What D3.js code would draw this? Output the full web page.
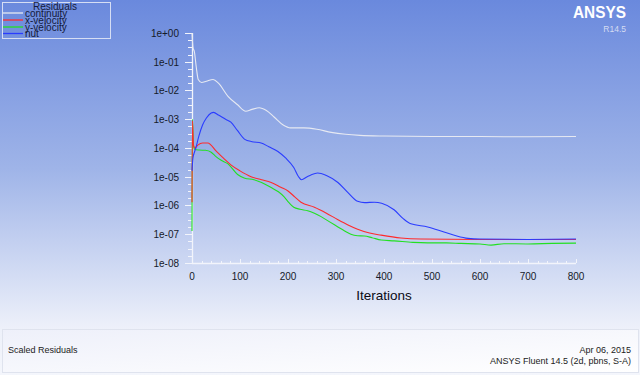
<!DOCTYPE html>
<html><head><meta charset="utf-8">
<script src="https://cdn.jsdelivr.net/npm/d3@7"></script>
<style>html,body{margin:0;padding:0;overflow:hidden;background:#fff}svg{display:block}text{font-family:"Liberation Sans",Arial,sans-serif}</style>
</head><body>
<script>
// ---- data ----
const xTicks = [0,100,200,300,400,500,600,700,800];
const yTickLabels = ["1e+00","1e-01","1e-02","1e-03","1e-04","1e-05","1e-06","1e-07","1e-08"];
const legendNames = ["continuity","x-velocity","y-velocity","nut"];
const seriesColors = ["#e6e9f2","#ff2a2a","#22e022","#2a3cff"];

const contIter = [0,2,5,9,13,20,30,44,55,75,95,112,125,140,155,171,190,205,233,260,290,320,350,400,500,600,700,800];
const contVal  = [1,0.32,0.22,0.063,0.024,0.019,0.021,0.024,0.018,6.3e-3,3.2e-3,1.9e-3,2.2e-3,2.5e-3,2.0e-3,1.2e-3,6.3e-4,5.0e-4,5.0e-4,4.5e-4,3.5e-4,3.0e-4,2.75e-4,2.6e-4,2.5e-4,2.5e-4,2.45e-4,2.5e-4];

const xvelIter = [0,1,3,6,12,22,33,50,65,81,100,123,145,165,185,200,214,227,255,280,304,325,345,370,394,435,477,600,800];
const xvelVal  = [1.3e-6,8.9e-4,1.26e-4,1.0e-4,1.26e-4,1.5e-4,1.5e-4,7.9e-5,4.5e-5,2.6e-5,1.6e-5,1.0e-5,7.9e-6,6.3e-6,4.3e-6,3.2e-6,2.0e-6,1.3e-6,8.7e-7,5.4e-7,3.2e-7,2.1e-7,1.5e-7,1.1e-7,9.3e-8,7.4e-8,6.8e-8,6.6e-8,6.6e-8];

const yvelIter = [0,1,3,6,15,28,40,50,60,75,95,110,129,145,165,180,192,202,212,225,241,255,269,285,304,318,331,345,359,375,394,421,460,491,530,560,600,623,650,700,750,800];
const yvelVal  = [1.3e-7,1.0e-3,1.26e-4,8.9e-5,8.5e-5,8.3e-5,7.1e-5,5.0e-5,3.8e-5,2.8e-5,1.2e-5,8.9e-6,7.9e-6,6.3e-6,4.2e-6,3.0e-6,2.0e-6,1.26e-6,8.7e-7,7.4e-7,6.6e-7,5.4e-7,4.1e-7,2.8e-7,1.8e-7,1.3e-7,1.0e-7,8.9e-8,8.7e-8,7.6e-8,6.3e-8,5.9e-8,5.2e-8,5.0e-8,5.0e-8,4.8e-8,4.6e-8,4.2e-8,4.7e-8,4.6e-8,4.8e-8,4.9e-8];

const nutIter = [0,2,5,8,14,22,30,40,45,55,70,81,95,110,125,144,160,179,195,212,222,228,240,262,280,304,325,345,360,380,395,421,440,456,491,525,550,575,600,700,800];
const nutVal  = [1.6e-5,4.5e-5,7.1e-5,1.0e-4,2.5e-4,6.3e-4,1.1e-3,1.66e-3,1.74e-3,1.4e-3,1.0e-3,7.9e-4,4.0e-4,2.0e-4,1.66e-4,1.5e-4,1.1e-4,7.6e-5,4.5e-5,2.1e-5,1.0e-5,7.9e-6,1.0e-5,1.35e-5,1.1e-5,6.3e-6,2.8e-6,1.4e-6,1.26e-6,1.3e-6,1.2e-6,7.1e-7,3.5e-7,2.3e-7,1.8e-7,1.2e-7,8.9e-8,7.2e-8,6.8e-8,6.6e-8,6.8e-8];

// ---- drawing ----
const W = 640, H = 375;
const svg = d3.select("body").append("svg").attr("width", W).attr("height", H);
const defs = svg.append("defs");
const bg = defs.append("linearGradient").attr("id","bg").attr("x1",0).attr("y1",0).attr("x2",0).attr("y2",1);
bg.append("stop").attr("offset","0%").attr("stop-color","#6a89dd");
bg.append("stop").attr("offset","45%").attr("stop-color","#9fb4e8");
bg.append("stop").attr("offset","88%").attr("stop-color","#eef1fa");
bg.append("stop").attr("offset","100%").attr("stop-color","#f4f6fc");
svg.append("rect").attr("width",W).attr("height",H).attr("fill","url(#bg)");

const fg = defs.append("linearGradient").attr("id","foot").attr("x1",0).attr("y1",0).attr("x2",1).attr("y2",1);
fg.append("stop").attr("offset","0%").attr("stop-color","#eef0fa");
fg.append("stop").attr("offset","100%").attr("stop-color","#ffffff");
svg.append("rect").attr("x",2.5).attr("y",329.5).attr("width",636).attr("height",43)
  .attr("fill","url(#foot)").attr("stroke","#dfe3ee").attr("stroke-width",1);

const x = d3.scaleLinear().domain([0,800]).range([192,576]);
const y = d3.scaleLog().domain([1e-8,1]).range([263,33]);

// axes
const axisCol = "#f2f4fb";
const g = svg.append("g");
// y axis line
g.append("line").attr("x1",x(0)+0.5).attr("x2",x(0)+0.5).attr("y1",y(1)).attr("y2",y(1e-8)).attr("stroke",axisCol).attr("stroke-width",1.3);
// x axis line
g.append("line").attr("x1",x(0)).attr("x2",x(800)).attr("y1",y(1e-8)+0.5).attr("y2",y(1e-8)+0.5).attr("stroke",axisCol).attr("stroke-width",1.3);

// y ticks
const yMajor = d3.range(0,9).map(i => Math.pow(10,-i));
yMajor.forEach((v,i) => {
  const yy = Math.round(y(v))+0.5;
  g.append("line").attr("x1",x(0)-7).attr("x2",x(0)).attr("y1",yy).attr("y2",yy).attr("stroke",axisCol);
  g.append("text").attr("x",x(0)-13).attr("y",yy+3.5).attr("text-anchor","end")
    .attr("font-size","10px").attr("fill","#151a2a").text(yTickLabels[i]);
  if (i < 8) {
    [0.25,0.5,0.75].forEach(f => {
      const ym = Math.round(y(v*Math.pow(10,-f)))+0.5;
      g.append("line").attr("x1",x(0)-4).attr("x2",x(0)).attr("y1",ym).attr("y2",ym).attr("stroke",axisCol);
    });
  }
});
// x ticks
d3.range(0,801,20).forEach(t => {
  const xx = Math.round(x(t))+0.5;
  const major = t % 100 === 0;
  g.append("line").attr("x1",xx).attr("x2",xx).attr("y1",y(1e-8)).attr("y2",y(1e-8)-(major?4:2)).attr("stroke",axisCol);
});
xTicks.forEach(t => {
  g.append("text").attr("x",x(t)).attr("y",280).attr("text-anchor","middle")
    .attr("font-size","10px").attr("fill","#151a2a").text(t);
});
g.append("text").attr("x",384).attr("y",300).attr("text-anchor","middle")
  .attr("font-size","13.5px").attr("fill","#0a0a14").text("Iterations");

// lines
const line = d3.line().x(d => x(d[0])).y(d => y(d[1])).curve(d3.curveMonotoneX);
const series = [
  [contIter, contVal],
  [xvelIter, xvelVal],
  [yvelIter, yvelVal],
  [nutIter, nutVal]
];
const order = [2,1,3,0];
order.forEach(k => {
  const [it, vals] = series[k];
  svg.append("path").datum(it.map((d,i)=>[d, vals[i]]))
    .attr("d", line).attr("fill","none").attr("stroke", seriesColors[k]).attr("stroke-width",1.1);
});

// legend
const lg = svg.append("g");
lg.append("rect").attr("x",2.5).attr("y",2.5).attr("width",108).attr("height",36)
  .attr("fill","none").attr("stroke","#d6def4").attr("stroke-width",1);
lg.append("text").attr("x",55).attr("y",10).attr("text-anchor","middle")
  .attr("font-size","10px").attr("fill","#141a3a").text("Residuals");
const ly = [13, 20, 27, 33.5];
legendNames.forEach((n,i) => {
  lg.append("line").attr("x1",3).attr("x2",23).attr("y1",ly[i]).attr("y2",ly[i])
    .attr("stroke", seriesColors[i]).attr("stroke-width",1.3);
  lg.append("text").attr("x",25).attr("y",ly[i]+3.5).attr("font-size","10px")
    .attr("fill","#141a3a").text(n);
});

// logo
svg.append("text").attr("x",626).attr("y",18).attr("text-anchor","end")
  .attr("font-size","16.5px").attr("font-weight","bold").attr("fill","#ffffff")
  .attr("textLength",53).attr("lengthAdjust","spacingAndGlyphs").text("ANSYS");
svg.append("text").attr("x",626).attr("y",32).attr("text-anchor","end")
  .attr("font-size","8.5px").attr("fill","#d4dcf2").text("R14.5");

// footer text
svg.append("text").attr("x",8).attr("y",353).attr("font-size","9px").attr("fill","#222").text("Scaled Residuals");
svg.append("text").attr("x",631).attr("y",353).attr("text-anchor","end").attr("font-size","9px").attr("fill","#222").text("Apr 06, 2015");
svg.append("text").attr("x",631).attr("y",364).attr("text-anchor","end").attr("font-size","9px").attr("fill","#222").text("ANSYS Fluent 14.5 (2d, pbns, S-A)");
</script>
</body></html>
